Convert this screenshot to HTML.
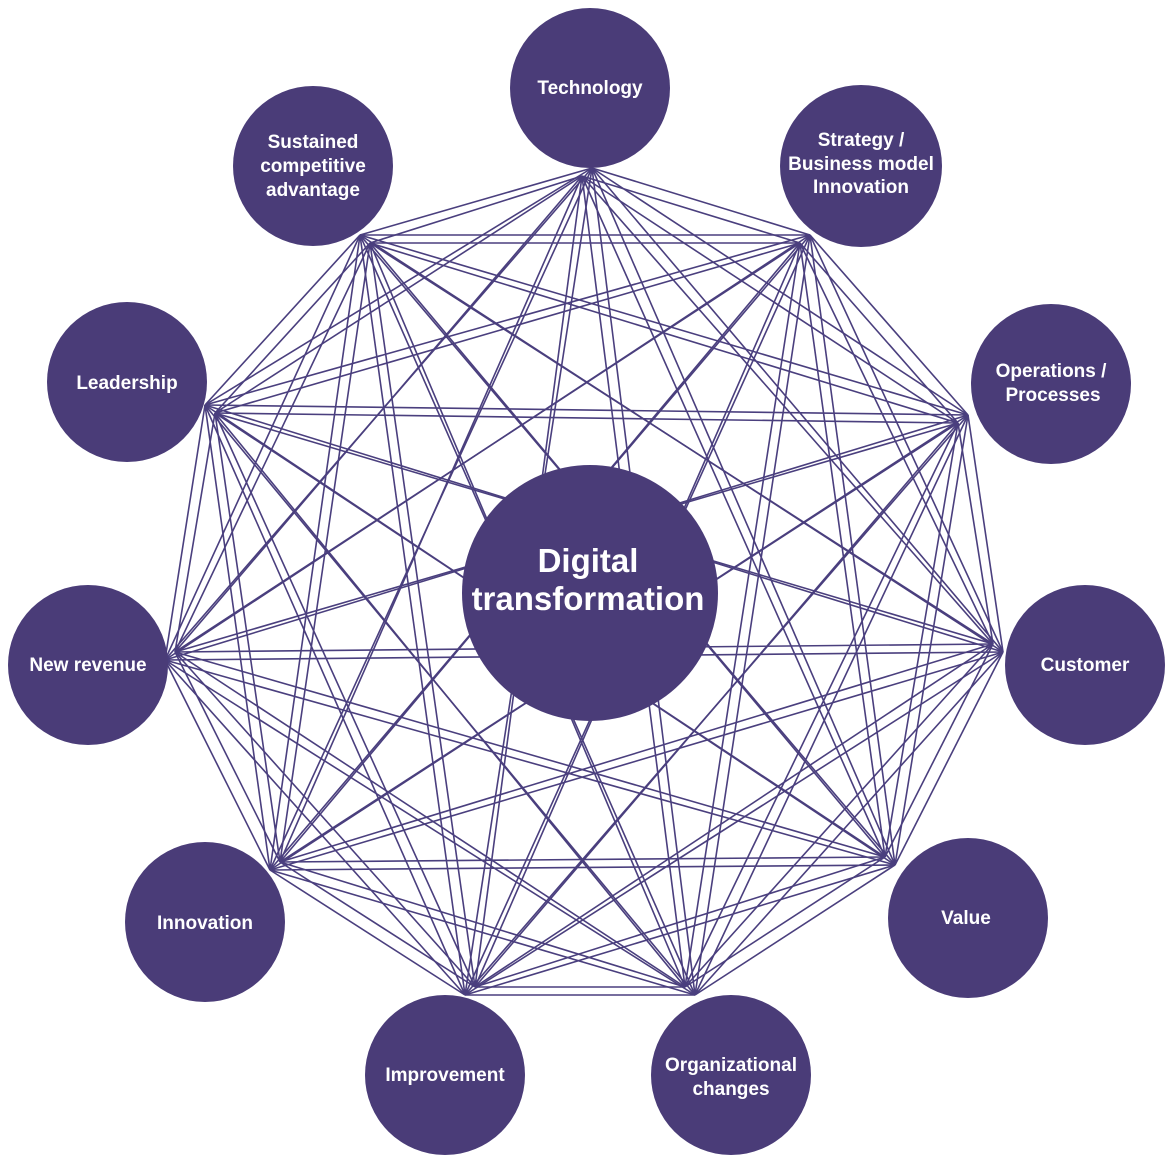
<!DOCTYPE html>
<html><head><meta charset="utf-8"><style>
html,body{margin:0;padding:0;background:#fff;}
svg{display:block;}
text{font-family:"Liberation Sans",sans-serif;fill:#fff;font-weight:bold;text-anchor:middle;}
</style></head><body>
<svg id="s" width="1172" height="1157" viewBox="0 0 1172 1157" xmlns="http://www.w3.org/2000/svg">
<g id="lines" stroke="#4a3f7e" stroke-width="1.6" fill="none"></g>
<g fill="#4a3c78">
<circle cx="590" cy="88" r="80"/>
<circle cx="861" cy="166" r="81"/>
<circle cx="1051" cy="384" r="80"/>
<circle cx="1085" cy="665" r="80"/>
<circle cx="968" cy="918" r="80"/>
<circle cx="731" cy="1075" r="80"/>
<circle cx="445" cy="1075" r="80"/>
<circle cx="205" cy="922" r="80"/>
<circle cx="88" cy="665" r="80"/>
<circle cx="127" cy="382" r="80"/>
<circle cx="313" cy="166" r="80"/>
<circle cx="590" cy="593" r="128"/>
</g>
<g font-size="19">
<text x="590" y="94">Technology</text>
<text x="861" y="146">Strategy /</text>
<text x="861" y="170">Business model</text>
<text x="861" y="193">Innovation</text>
<text x="1051" y="377">Operations /</text>
<text x="1053" y="401">Processes</text>
<text x="1085" y="671">Customer</text>
<text x="966" y="924">Value</text>
<text x="731" y="1071">Organizational</text>
<text x="731" y="1095">changes</text>
<text x="445" y="1081">Improvement</text>
<text x="205" y="929">Innovation</text>
<text x="88" y="671">New revenue</text>
<text x="127" y="389">Leadership</text>
<text x="313" y="148">Sustained</text>
<text x="313" y="172">competitive</text>
<text x="313" y="196">advantage</text>
</g>
<g font-size="33">
<text x="588" y="572">Digital</text>
<text x="588" y="610">transformation</text>
</g>
</svg>
<script>
var hubs=[[592,168],[810,235],[968,415],[1003,652],[895,865],[695,995],[465,995],[270,870],[165,660],[205,405],[360,235]];
var g=document.getElementById('lines'),ns='http://www.w3.org/2000/svg';
function L(a,b){var l=document.createElementNS(ns,'line');l.setAttribute('x1',a[0]);l.setAttribute('y1',a[1]);l.setAttribute('x2',b[0]);l.setAttribute('y2',b[1]);g.appendChild(l);}
for(var i=0;i<hubs.length;i++)for(var j=i+1;j<hubs.length;j++){
 var a=hubs[i],b=hubs[j];
 L(a,b);
 L([a[0]+(a[0]>586?-10:10),a[1]+(a[1]>593?-8:8)],[b[0]+(b[0]>586?-10:10),b[1]+(b[1]>593?-8:8)]);
}
</script>
</body></html>
